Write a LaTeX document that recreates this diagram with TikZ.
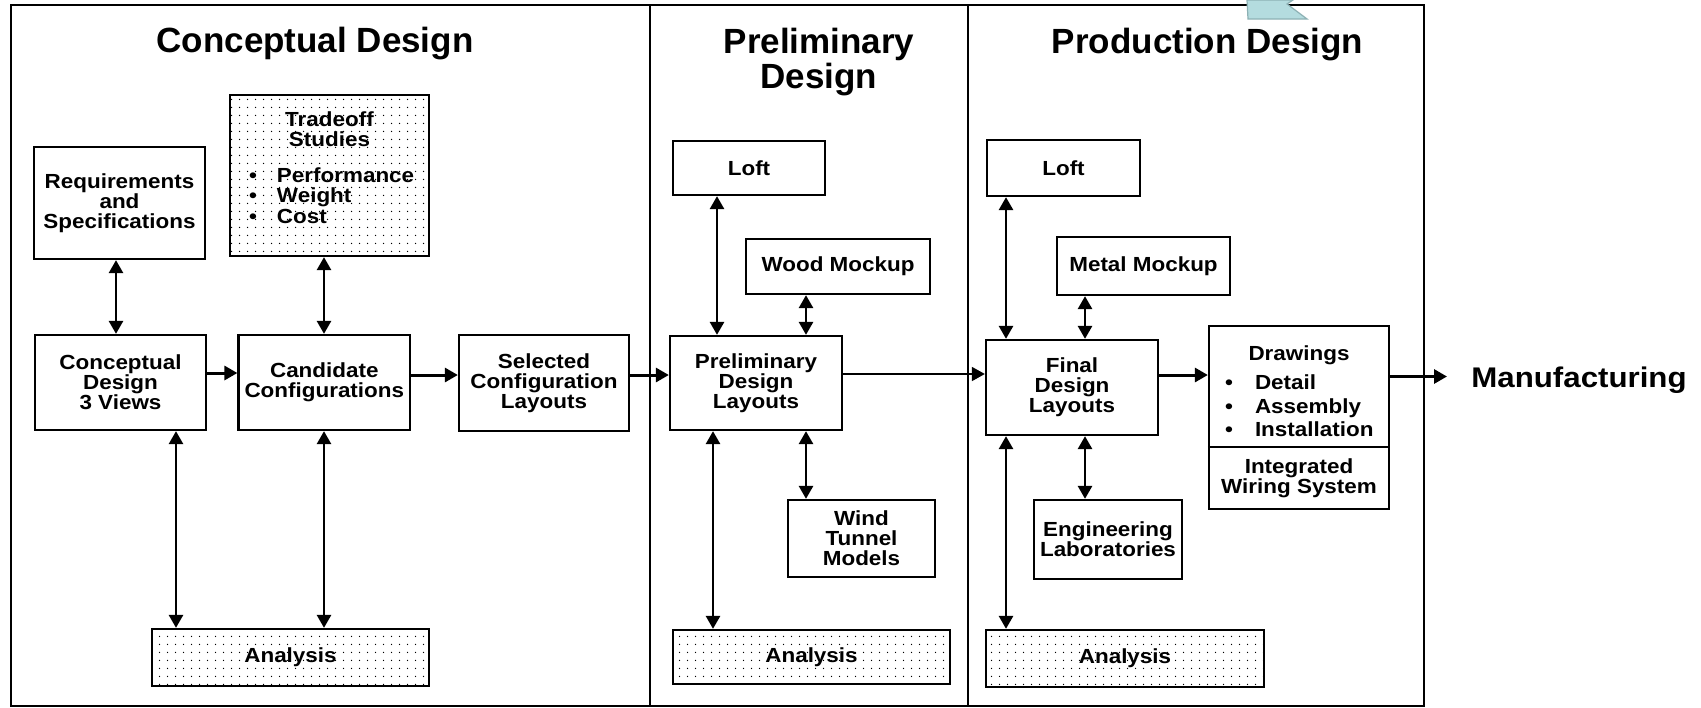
\documentclass[tikz,border=0pt]{standalone}
\usepackage{fontspec}
\setmainfont{Liberation Sans}
\newfontfamily\bxf{Liberation Sans Bold}[FakeStretch=1.1]
\newfontfamily\ttlf{Liberation Sans Bold}
\usetikzlibrary{arrows.meta,patterns.meta}
\definecolor{callout}{HTML}{B4DCDF}
\definecolor{calloutedge}{HTML}{8DB1B4}
\begin{document}
\begin{tikzpicture}[x=0.5pt,y=-0.5pt,
  >={Triangle[length=6.5pt,width=7pt]},
  frame/.style={line width=0.85pt},
  box/.style={draw, line width=1.15pt, fill=white, inner sep=0pt, align=center,
     font=\bxf\fontsize{10.2}{10}\selectfont},
  dotbox/.style={box, pattern={Dots[distance=4pt,radius=0.38pt]}, pattern color=black},
  txt/.style={inner sep=0pt, align=center, font=\bxf\fontsize{10.2}{10}\selectfont},
  ttl/.style={inner sep=0pt, align=center, font=\ttlf\fontsize{17.5}{17.5}\selectfont},
  mfgfont/.style={inner sep=0pt, font=\bxf\fontsize{14.2}{14.2}\selectfont},
  dbl/.style={<->, line width=1.4pt},
  sgl/.style={->, line width=1.5pt},
  thinarr/.style={->, line width=0.8pt}
]
\useasboundingbox (0,0) rectangle (1701,707);
\fill[white] (0,0) rectangle (1701,707);

% panels
\draw[frame] (11,5) rectangle (650,706);
\draw[frame] (650,5) rectangle (968,706);
\draw[frame] (968,5) rectangle (1424,706);

% titles
\node[ttl, anchor=base] (t1) at (315,52) {Conceptual Design};
\node[ttl, anchor=north] (t2) at (819,27.5) {Preliminary\\Design};
\node[ttl, anchor=base] (t3) at (1207.5,53) {Production Design};

% conceptual design
\node[box, minimum width=85.5pt, minimum height=56pt] (req) at (119.5,203) {Requirements\\and\\Specifications};
\node[dotbox, minimum width=99.5pt, minimum height=80.5pt] (trade) at (329.5,175.5) {};
\node[txt, anchor=north] (tradetxt) at (329.5,111) {Tradeoff\\Studies\\[8pt]
  \makebox[84pt][l]{\hspace{2pt}\makebox[3.5pt]{\textbullet}\hspace{10.25pt}Performance}\\
  \makebox[84pt][l]{\hspace{2pt}\makebox[3.5pt]{\textbullet}\hspace{10.25pt}Weight}\\[0.5pt]
  \makebox[84pt][l]{\hspace{2pt}\makebox[3.5pt]{\textbullet}\hspace{10.25pt}Cost}};
\node[box, minimum width=85.5pt, minimum height=47.5pt] (cdv) at (120.5,382.5) {Conceptual\\Design\\3 Views};
\node[box, minimum width=85.75pt, minimum height=47.5pt] (cand) at (324.3,382.5) {Candidate\\Configurations};
\node[box, minimum width=85pt, minimum height=48pt] (sel) at (544,383) {Selected\\Configuration\\Layouts};
\node[dotbox, minimum width=138.5pt, minimum height=28.5pt] (ana1) at (290.5,657.5) {Analysis};

% preliminary design
\node[box, minimum width=76pt, minimum height=27pt] (ploft) at (749,168) {Loft};
\node[box, minimum width=92pt, minimum height=27.5pt] (wood) at (838,266.5) {Wood Mockup};
\node[box, minimum width=86pt, minimum height=47pt] (pdl) at (756,383) {Preliminary\\Design\\Layouts};
\node[box, minimum width=73.5pt, minimum height=38.5pt] (wind) at (861.5,538.5) {Wind\\Tunnel\\Models};
\node[dotbox, minimum width=138.5pt, minimum height=27pt] (ana2) at (811.5,657) {Analysis};

% production design
\node[box, minimum width=76.5pt, minimum height=28pt] (floft) at (1063.5,168) {Loft};
\node[box, minimum width=86.5pt, minimum height=29pt] (metal) at (1143.5,266) {Metal Mockup};
\node[box, minimum width=86pt, minimum height=47.5pt] (final) at (1072,387.5) {Final\\Design\\Layouts};
\node[box, minimum width=90pt, minimum height=91.5pt] (drw) at (1299,417.5) {};
\node[txt, anchor=north, font=\bxf\fontsize{10.2}{11.75}\selectfont] (drwtxt) at (1299,345.5) {Drawings\\[2.75pt]
  \makebox[73.5pt][l]{\makebox[3.5pt]{\textbullet}\hspace{11.25pt}Detail}\\
  \makebox[73.5pt][l]{\makebox[3.5pt]{\textbullet}\hspace{11.25pt}Assembly}\\
  \makebox[73.5pt][l]{\makebox[3.5pt]{\textbullet}\hspace{11.25pt}Installation}};
\coordinate (dv) at (0,447);
\draw[line width=1.15pt] (drw.west |- dv) -- (drw.east |- dv);
\node[txt] (wiring) at (1299,478) {Integrated\\Wiring System};
\node[box, minimum width=74pt, minimum height=39.5pt] (eng) at (1108,539.5) {Engineering\\Laboratories};
\node[dotbox, minimum width=139pt, minimum height=28.5pt] (ana3) at (1125,658.5) {Analysis};
\node[mfgfont, anchor=base west] (mfg) at (1471,387) {Manufacturing};

% connectors
\coordinate (v1) at (116,0);
\coordinate (v2) at (324,0);
\coordinate (v3) at (176,0);
\coordinate (v4) at (717,0);
\coordinate (v5) at (806,0);
\coordinate (v6) at (713,0);
\coordinate (v7) at (1006,0);
\coordinate (v8) at (1085,0);
\coordinate (h1) at (0,373);
\coordinate (h2) at (0,375);
\coordinate (h3) at (0,374);
\coordinate (mfgin) at (1447,376.5);

\draw[dbl] (req.south -| v1) -- (cdv.north -| v1);
\draw[dbl] (trade.south -| v2) -- (cand.north -| v2);
\draw[dbl] (cdv.south -| v3) -- (ana1.north -| v3);
\draw[dbl] (cand.south -| v2) -- (ana1.north -| v2);
\draw[sgl] (cdv.east |- h1) -- (cand.west |- h1);
\draw[sgl] (cand.east |- h2) -- (sel.west |- h2);
\draw[sgl] (sel.east |- h2) -- (pdl.west |- h2);

\draw[dbl] (ploft.south -| v4) -- (pdl.north -| v4);
\draw[dbl] (wood.south -| v5) -- (pdl.north -| v5);
\draw[dbl] (pdl.south -| v5) -- (wind.north -| v5);
\draw[dbl] (pdl.south -| v6) -- (ana2.north -| v6);
\draw[thinarr] (pdl.east |- h3) -- (final.west |- h3);

\draw[dbl] (floft.south -| v7) -- (final.north -| v7);
\draw[dbl] (final.south -| v7) -- (ana3.north -| v7);
\draw[dbl] (metal.south -| v8) -- (final.north -| v8);
\draw[dbl] (final.south -| v8) -- (eng.north -| v8);
\draw[sgl] (final.east |- h2) -- (drw.west |- h2);
\draw[sgl] (drw.east |- mfgin) -- (mfgin);

% callout fragment at the top edge
\filldraw[fill=callout, draw=calloutedge, line width=0.6pt]
  (1247,0) -- (1248,19) -- (1307,19) -- (1287,4) -- (1293,0) -- cycle;
\end{tikzpicture}
\end{document}
